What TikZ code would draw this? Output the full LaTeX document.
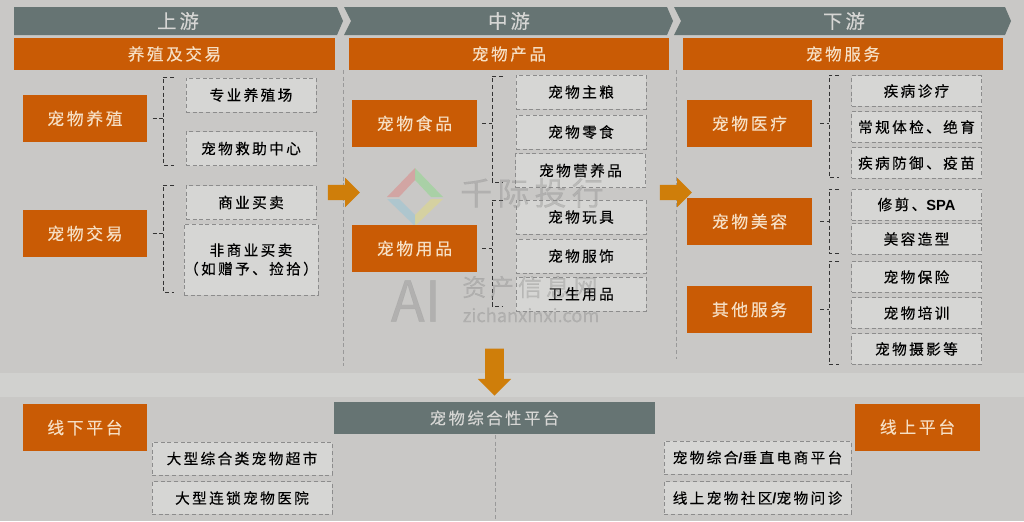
\documentclass[tikz,border=0pt]{standalone}
\usepackage{fontspec}
\setmainfont{Noto Sans CJK SC}[LetterSpace=16,FakeBold=0.25]
\newfontfamily\latinbold{Liberation Sans Bold}
\usetikzlibrary{shapes,arrows,positioning,calc}
\definecolor{pagegray}{HTML}{C9C8C6}
\definecolor{bandgray}{HTML}{D1D1CF}
\definecolor{slategray}{HTML}{667473}
\definecolor{burnt}{HTML}{C95B05}
\definecolor{amber}{HTML}{CF7E0A}
\definecolor{paper}{HTML}{D6D6D4}
\definecolor{cream}{HTML}{F6DFC4}
\begin{document}
\begin{tikzpicture}[
        x=0.75pt, y=-0.75pt,
        every node/.style={font=\fontsize{11}{14}\selectfont, inner sep=0pt, align=center},
        chevron/.style={fill=slategray},
        chevtext/.style={font=\fontsize{14.5}{16}\selectfont, text=paper},
        headbox/.style={fill=burnt, text=cream, minimum width=240.5pt, minimum height=24pt, font=\fontsize{12.4}{14}\selectfont},
        catbox/.style={fill=burnt, text=cream, minimum width=93.5pt, minimum height=35.25pt, font=\fontsize{12.6}{14}\selectfont},
        dashbox/.style={draw=gray!90, densely dashed, line width=0.4pt, fill=paper, text=black, minimum width=97.5pt, minimum height=25.5pt},
        slimbox/.style={dashbox, minimum height=23pt},
        widebox/.style={dashbox, minimum width=135pt, minimum height=24.5pt},
        brace/.style={draw=black!80, densely dashed, line width=0.5pt},
        divider/.style={draw=gray!80, densely dashed, line width=0.3pt},
        bigarrow/.style={single arrow, fill=amber, inner sep=5.6pt, single arrow head extend=5.25pt, minimum height=24pt},
        wmark/.style={text=gray, opacity=0.32},
    ]
        % --- Page and band ---
        \fill[pagegray] (0,0) rectangle (1024,521);
        \fill[bandgray] (0,373) rectangle (1024,397);
        \useasboundingbox (0,0) rectangle (1024,521);

        % --- Logo under the boxes ---
        \fill[red!50!pagegray, opacity=0.35] (387,197) -- (415,168) -- (415,180) -- (399,197) -- cycle;
        \fill[green!45!pagegray, opacity=0.35] (415,168) -- (443,197) -- (431,197) -- (415,180) -- cycle;
        \fill[cyan!45!pagegray, opacity=0.35] (387,199) -- (399,199) -- (415,215) -- (415,226) -- cycle;
        \fill[yellow!60!pagegray, opacity=0.35] (443,199) -- (431,199) -- (415,215) -- (415,226) -- cycle;

        % --- Dividers ---
        \draw[divider] (343,70) -- (343,366);
        \draw[divider] (676,70) -- (676,359);
        \draw[divider] (495,435) -- (495,521);

        % --- Chain heads ---
        \fill[chevron] (14,7) -- (337,7) -- (343,21) -- (337,35) -- (14,35) -- cycle;
        \fill[chevron] (344,7) -- (667,7) -- (673,21) -- (667,35) -- (344,35) -- (351,21) -- cycle;
        \fill[chevron] (674,7) -- (1005,7) -- (1011,21) -- (1005,35) -- (674,35) -- (681,21) -- cycle;
        \node[chevtext] (up)   at (178,21) {上游};
        \node[chevtext] (mid)  at (509,21) {中游};
        \node[chevtext] (down) at (844,21) {下游};

        \node[headbox] (breedhead)   at (174.5,54) {养殖及交易};
        \node[headbox] (producthead) at (509,54)   {宠物产品};
        \node[headbox] (servicehead) at (843,54)   {宠物服务};

        % --- Upstream ---
        \node[catbox] (breed) at (85,118.5) {宠物养殖};
        \node[catbox] (trade) at (85,233.5) {宠物交易};
        \node[dashbox] (farm)   at (251,95)    {专业养殖场};
        \node[dashbox] (rescue) at (251,148.5) {宠物救助中心};
        \node[dashbox] (sale)   at (251,202.5) {商业买卖};
        \node[dashbox, minimum height=53.25pt] (gift) at (251,259.5) {非商业买卖\\（如赠予、捡拾）};

        % --- Midstream ---
        \node[catbox] (food)   at (414.5,123.5) {宠物食品};
        \node[catbox] (goods)  at (414.5,248.5) {宠物用品};
        \node[dashbox] (staple)   at (581,92)    {宠物主粮};
        \node[dashbox] (snack)    at (581,132)   {宠物零食};
        \node[dashbox] (nutrient) at (580.5,170.5) {宠物营养品};
        \node[dashbox] (toy)      at (581,217)   {宠物玩具};
        \node[dashbox] (apparel)  at (581,256)   {宠物服饰};
        \node[dashbox] (hygiene)  at (581,294)   {卫生用品};

        % --- Downstream ---
        \node[catbox] (medical) at (749.5,123.5) {宠物医疗};
        \node[catbox] (beauty)  at (749.5,221.5) {宠物美容};
        \node[catbox] (other)   at (749.5,309.5) {其他服务};
        \node[slimbox] (diagnose) at (916.5,91)    {疾病诊疗};
        \node[slimbox] (checkup)  at (916.5,127)   {常规体检、绝育};
        \node[slimbox] (vaccine)  at (916.5,163)   {疾病防御、疫苗};
        \node[slimbox] (trim)     at (916.5,204.5) {修剪、{\latinbold SPA}};
        \node[slimbox] (styling)  at (916.5,239)   {美容造型};
        \node[slimbox] (insure)   at (916.5,277)   {宠物保险};
        \node[slimbox] (train)    at (916.5,313)   {宠物培训};
        \node[slimbox] (photo)    at (916.5,349)   {宠物摄影等};

        % --- Platforms ---
        \node[fill=slategray, text=paper, minimum width=240.75pt, minimum height=24pt, font=\fontsize{12.2}{14}\selectfont] (platform) at (494.5,418) {宠物综合性平台};
        \node[catbox] (offline) at (85,427.5)  {线下平台};
        \node[catbox] (online)  at (917.5,427) {线上平台};
        \node[widebox] (market)   at (242,458.5)   {大型综合类宠物超市};
        \node[widebox] (hospital) at (242,498)     {大型连锁宠物医院};
        \node[widebox, minimum width=140pt] (ecom)  at (757.5,457.5) {宠物综合{\latinbold /}垂直电商平台};
        \node[widebox, minimum width=140pt] (forum) at (757.5,498)   {线上宠物社区{\latinbold /}宠物问诊};

        % --- Braces ---
        \coordinate (breedtop)  at (174,77);
        \coordinate (breedend)  at (174,165);
        \coordinate (tradetop)  at (174,185);
        \coordinate (tradeend)  at (174,292);
        \coordinate (foodtop)   at (503,76);
        \coordinate (foodend)   at (503,182);
        \coordinate (goodstop)  at (503,200);
        \coordinate (goodsend)  at (503,306);
        \coordinate (medtop)    at (839,75);
        \coordinate (medend)    at (839,177);
        \coordinate (beautytop) at (839,189);
        \coordinate (beautyend) at (839,253);
        \coordinate (othertop)  at (839,261);
        \coordinate (otherend)  at (839,364);
        \draw[brace] (breedtop) -- ++(-11,0) |- (breedend);
        \draw[brace] (tradetop) -- ++(-11,0) |- (tradeend);
        \draw[brace] (foodtop) -- ++(-11,0) |- (foodend);
        \draw[brace] (goodstop) -- ++(-11,0) |- (goodsend);
        \draw[brace] (medtop) -- ++(-10,0) |- (medend);
        \draw[brace] (beautytop) -- ++(-10,0) |- (beautyend);
        \draw[brace] (othertop) -- ++(-10,0) |- (otherend);
        \draw[brace, shorten <=3.75pt] (breed.east) -- ++(16,0);
        \draw[brace, shorten <=3.75pt] (trade.east) -- ++(16,0);
        \draw[brace, shorten <=3.75pt] (food.east) -- ++(15,0);
        \draw[brace, shorten <=3.75pt] (goods.east) -- ++(15,0);
        \draw[brace, shorten <=6pt] (medical.east) -- ++(17,0);
        \draw[brace, shorten <=6pt] (beauty.east) -- ++(17,0);
        \draw[brace, shorten <=6pt] (other.east) -- ++(17,0);

        % --- Flow arrows ---
        \node[bigarrow] (flowone) at (340,192.5) {};
        \node[bigarrow] (flowtwo) at (672,192.5) {};
        \node[bigarrow, inner sep=6.75pt, single arrow head extend=5.6pt, minimum height=35.25pt, shape border rotate=270] (flowdown) at (494.5,367.5) {};

        % --- Watermark ---
        \node[wmark, font=\fontsize{24}{26}\selectfont] (markname) at (532,193) {千际投行};
        \node[wmark, font=\fontsize{42}{44}\selectfont] (markai) at (416,301) {\addfontfeature{LetterSpace=0}AI};
        \node[wmark, font=\fontsize{18}{20}\selectfont] (markcn) at (530,287) {资产信息网};
        \node[wmark, font=\fontsize{13.7}{16}\selectfont] (markurl) at (531,315) {\addfontfeature{LetterSpace=0}zichanxinxi.com};
    \end{tikzpicture}
\end{document}
